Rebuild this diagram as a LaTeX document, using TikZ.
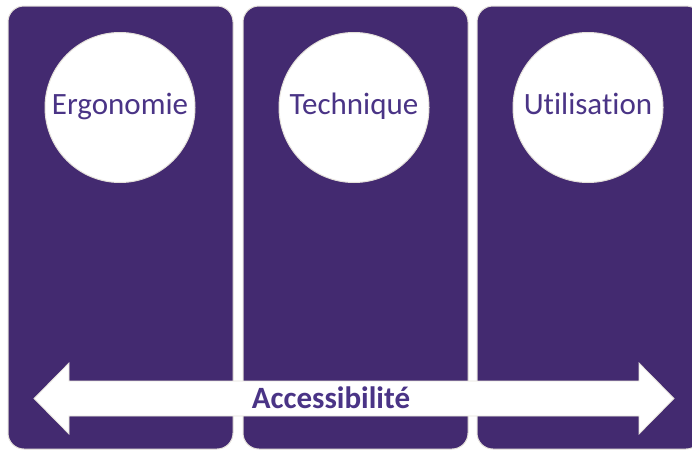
\documentclass[tikz,border=0pt]{standalone}
\usepackage{fontspec}
\setmainfont{Carlito}[Ligatures=NoCommon]
\usetikzlibrary{positioning}

\definecolor{colpurple}{HTML}{432A70}
\definecolor{txtpurple}{HTML}{4A3486}
\definecolor{rimgray}{HTML}{E4E0DA}

\begin{document}
\begin{tikzpicture}[x=1pt, y=-1pt,
    column/.style={fill=colpurple, draw=rimgray, line width=1pt, rounded corners=16pt},
    disc/.style={circle, fill=white, draw=rimgray, line width=1pt, minimum size=150pt,
      inner sep=0pt, text height=21pt, text depth=6.5pt,
      text=txtpurple, font=\fontsize{31}{36}\selectfont},
    arrowlabel/.style={text=txtpurple, font=\fontsize{31}{35}\selectfont\bfseries, inner sep=0pt}]

  % Cadre de l'image
  \useasboundingbox (0,0) rectangle (692,450);

  % Colonnes (largeur 225, ecart 10)
  \def\coltop{6}
  \def\colbot{449}
  \draw[column] (8,\coltop) rectangle (233,\colbot);
  \draw[column] (243,\coltop) rectangle (468,\colbot);
  \draw[column] (477,\coltop) rectangle (702,\colbot);

  % Cercles avec les titres
  \node[disc] (ergo) at (120,107.5) {Ergonomie};
  \node[disc] (tech) at (354,107.5) {Technique};
  \node[disc] (util) at (588,107.5) {Utilisation};

  % Fleche double en bas
  % tige : y = 381 .. 416, tetes : y = 363 .. 434
  \fill[white, draw=rimgray, line width=0.8pt]
    (34,398.5) -- (69,363) -- (69,381) -- (639,381) -- (639,363) -- (674,398.5)
    -- (639,434) -- (639,416) -- (69,416) -- (69,434) -- cycle;

  % Libelle de la fleche
  \node[arrowlabel] (acc) at (331,397.5) {Accessibilit\'e};

\end{tikzpicture}
\end{document}
